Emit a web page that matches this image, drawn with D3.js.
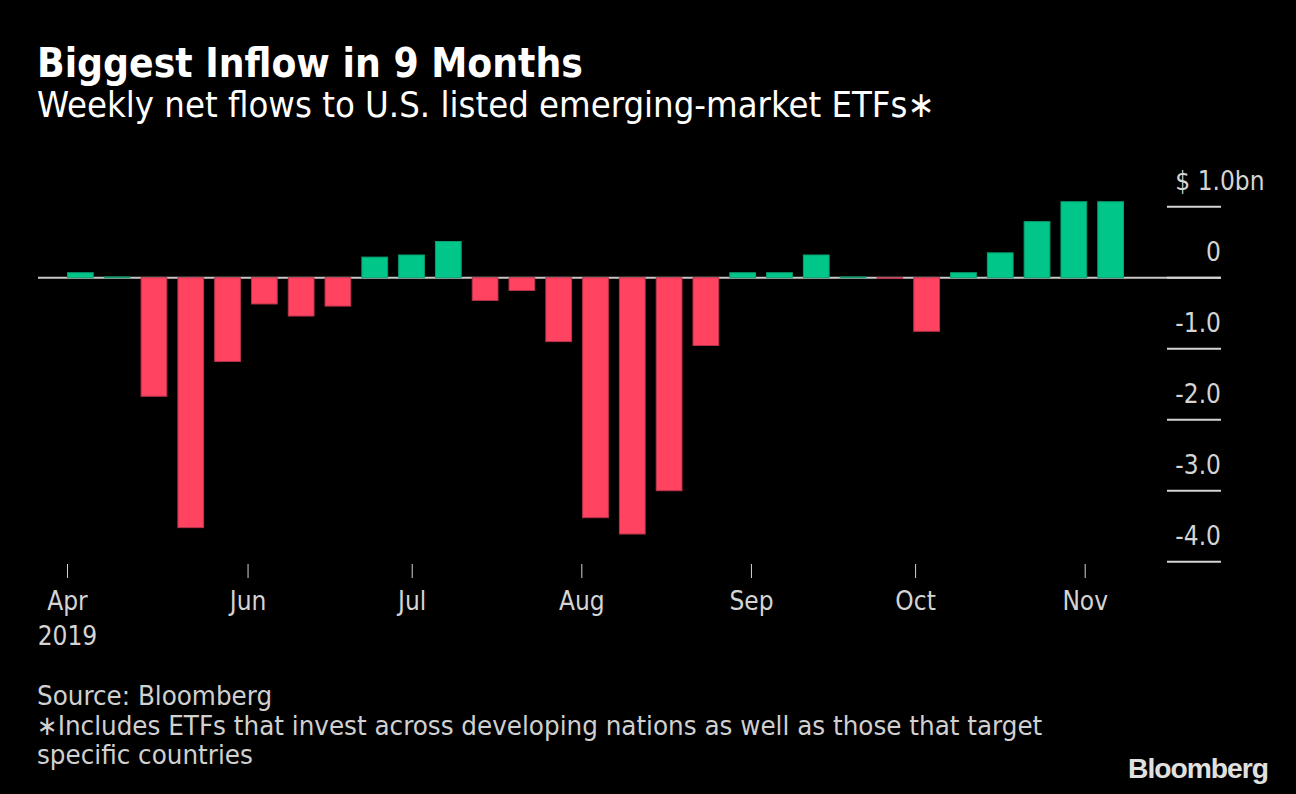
<!DOCTYPE html>
<html>
<head>
<meta charset="utf-8">
<script src="https://cdn.jsdelivr.net/npm/d3@7"></script>
<style>
  html, body { margin: 0; padding: 0; background: #000; }
  svg { display: block; }
</style>
</head>
<body>
<svg id="chart" width="1296" height="794"></svg>
<script>
// ---- data ----
const weeks = ["2019-04-26","2019-05-03","2019-05-10","2019-05-17","2019-05-24","2019-05-31",
  "2019-06-07","2019-06-14","2019-06-21","2019-06-28","2019-07-05","2019-07-12","2019-07-19",
  "2019-07-26","2019-08-02","2019-08-09","2019-08-16","2019-08-23","2019-08-30","2019-09-06",
  "2019-09-13","2019-09-20","2019-09-27","2019-10-04","2019-10-11","2019-10-18","2019-10-25",
  "2019-11-01","2019-11-08"];
const flows = [0.07, 0.01, -1.67, -3.52, -1.18, -0.37, -0.54, -0.40, 0.29, 0.32, 0.51, -0.32, -0.18,
  -0.90, -3.38, -3.61, -3.00, -0.955, 0.07, 0.07, 0.32, 0.01, -0.01, -0.755, 0.07, 0.35, 0.79,
  1.07, 1.07];
const yTicks = [1, 0, -1, -2, -3, -4];
const yTickLabels = ["$ 1.0bn", "0", "-1.0", "-2.0", "-3.0", "-4.0"];
const xTickDates = ["2019-04-29","2019-06-01","2019-07-01","2019-08-01","2019-09-01","2019-10-01","2019-11-01"];
const xTickLabels = ["Apr","Jun","Jul","Aug","Sep","Oct","Nov"];
const timeDomain = ["2019-04-29", "2019-11-08"];

const title = "Biggest Inflow in 9 Months";
const subtitle = "Weekly net flows to U.S. listed emerging-market ETFs\u2217";
const footer = ["Source: Bloomberg",
  "\u2217Includes ETFs that invest across developing nations as well as those that target",
  "specific countries"];

// ---- layout ----
const svg = d3.select("#chart");
const FONT = "'DejaVu Sans Condensed', 'DejaVu Sans', sans-serif";
const parse = d3.timeParse("%Y-%m-%d");

svg.append("rect").attr("width", 1296).attr("height", 794).attr("fill", "#000");

const plotLeft = 67.5, plotRight = 1123.5;
const x = d3.scaleBand().domain(weeks).range([plotLeft, plotRight]).paddingInner(0.3).paddingOuter(0);
const xt = d3.scaleTime().domain(timeDomain.map(parse)).range([plotLeft, plotRight]);
const y = d3.scaleLinear().domain([-4, 1]).range([561.7, 206.7]);

function fit(sel, target) {
  const n = sel.node();
  const w = n.getComputedTextLength();
  const fs = parseFloat(sel.attr("font-size"));
  sel.attr("font-size", fs * target / w);
  return sel;
}

// title
fit(svg.append("text").attr("x", 37).attr("y", 77).attr("fill", "#fff")
  .attr("font-family", FONT).attr("font-weight", "bold").attr("font-size", 34).text(title), 546);
fit(svg.append("text").attr("x", 37).attr("y", 117).attr("fill", "#fff")
  .attr("font-family", FONT).attr("font-size", 30).text(subtitle), 898);

// y axis grid ticks
const axisColor = "#d4d4d4";
const yAxisX1 = 1167, yAxisX2 = 1221;
svg.append("line").attr("x1", 38).attr("x2", yAxisX2)
  .attr("y1", y(0)).attr("y2", y(0)).attr("stroke", "#c8c8c8").attr("stroke-width", 2);

const yt = svg.append("g");
yt.selectAll("line").data(yTicks).join("line")
  .attr("x1", yAxisX1).attr("x2", yAxisX2)
  .attr("y1", d => y(d)).attr("y2", d => y(d))
  .attr("stroke", axisColor).attr("stroke-width", 2);
const ylab = yt.selectAll("text.yl").data(yTicks).join("text").attr("class", "yl")
  .attr("x", yAxisX2).attr("y", d => y(d) - 17)
  .attr("text-anchor", "end").attr("fill", axisColor)
  .attr("font-family", FONT).attr("font-size", 26)
  .text((d, i) => yTickLabels[i]);
// top (unit) label starts at the left edge of the other labels
const refW = ylab.filter((d, i) => i === 2).node().getComputedTextLength();
ylab.filter((d, i) => i === 0).attr("text-anchor", "start").attr("x", yAxisX2 - refW);

// bars
svg.append("g").selectAll("rect").data(weeks).join("rect")
  .attr("x", d => x(d))
  .attr("width", x.bandwidth())
  .attr("y", (d, i) => y(Math.max(0, flows[i])))
  .attr("height", (d, i) => Math.abs(y(flows[i]) - y(0)))
  .attr("fill", (d, i) => flows[i] >= 0 ? "#00c68a" : "#ff4360")
  .attr("stroke", (d, i) => flows[i] >= 0 ? "#0a9e70" : "#b8334a")
  .attr("stroke-width", 1);

// x axis
const xg = svg.append("g");
const xd = xTickDates.map(parse);
xg.selectAll("line").data(xd).join("line")
  .attr("x1", d => xt(d)).attr("x2", d => xt(d))
  .attr("y1", 564).attr("y2", 578)
  .attr("stroke", axisColor).attr("stroke-width", 1);
xg.selectAll("text").data(xd).join("text")
  .attr("x", d => xt(d)).attr("y", 610)
  .attr("text-anchor", "middle").attr("fill", axisColor)
  .attr("font-family", FONT).attr("font-size", 26)
  .text((d, i) => xTickLabels[i]);
xg.append("text").attr("x", xt(xd[0])).attr("y", 645)
  .attr("text-anchor", "middle").attr("fill", axisColor)
  .attr("font-family", FONT).attr("font-size", 26)
  .text(d3.timeFormat("%Y")(xd[0]));

// footer
const fg = svg.append("g");
const f0 = fg.append("text").attr("x", 37).attr("y", 705).attr("fill", "#d0d0d0")
  .attr("font-family", FONT).attr("font-size", 26).text(footer[0]);
const f1 = fg.append("text").attr("x", 37).attr("y", 735).attr("fill", "#d0d0d0")
  .attr("font-family", FONT).attr("font-size", 26).text(footer[1]);
fit(f1, 1006);
const fs = f1.attr("font-size");
f0.attr("font-size", fs);
fg.append("text").attr("x", 37).attr("y", 764).attr("fill", "#d0d0d0")
  .attr("font-family", FONT).attr("font-size", fs).text(footer[2]);

// logo
fit(svg.append("text").attr("x", 1128).attr("y", 778).attr("fill", "#e0e0e0")
  .attr("font-family", "'Liberation Sans', Arial, sans-serif").attr("font-weight", "bold")
  .attr("letter-spacing", -1).attr("font-size", 28).text("Bloomberg"), 140);
</script>
</body>
</html>
